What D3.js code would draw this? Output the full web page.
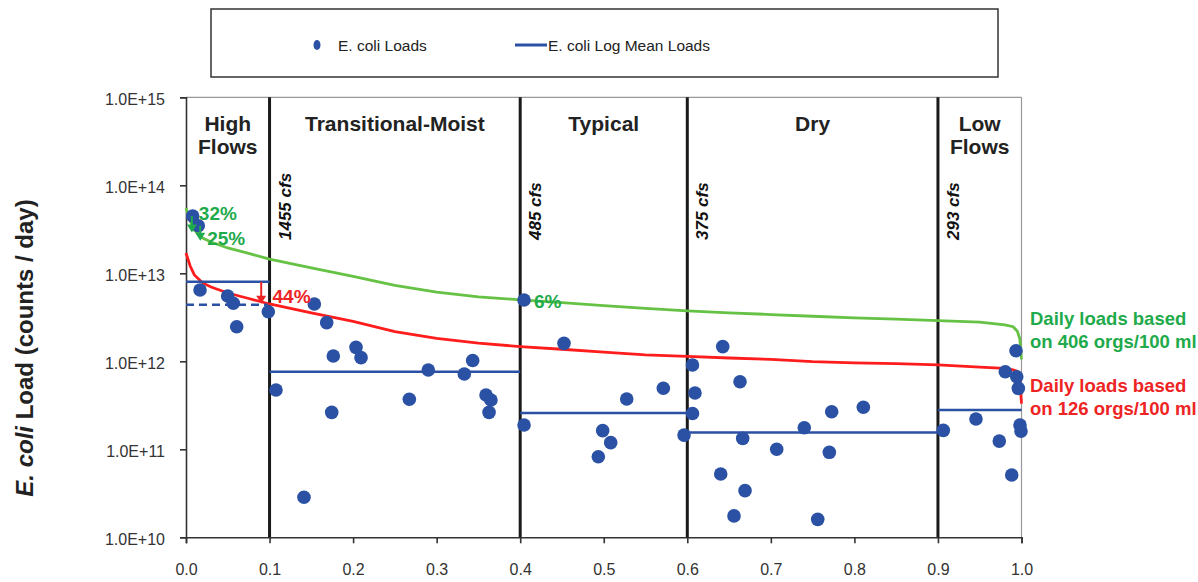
<!DOCTYPE html>
<html><head><meta charset="utf-8">
<script src="https://cdn.jsdelivr.net/npm/d3@7"></script>
<style>
body{margin:0;background:#fff;}
svg{display:block;font-family:"Liberation Sans",Arial,sans-serif;}
</style></head><body>
<svg id="c" width="1198" height="582"></svg>
<script>
// ---------- data ----------
const yTicks = [1e10, 1e11, 1e12, 1e13, 1e14, 1e15];
const xTicks = [0, 0.1, 0.2, 0.3, 0.4, 0.5, 0.6, 0.7, 0.8, 0.9, 1.0];

const regimeNames = [["High", "Flows"], ["Transitional-Moist"], ["Typical"], ["Dry"], ["Low", "Flows"]];
const regimeStart = [0, 0.1, 0.4, 0.6, 0.9];
const regimeEnd   = [0.1, 0.4, 0.6, 0.9, 1.0];
const boundaryPct = [0.1, 0.4, 0.6, 0.9];
const boundaryFlow = ["1455 cfs", "485 cfs", "375 cfs", "293 cfs"];
const logMeanLoads = [8.0e12, 7.6e11, 2.58e11, 1.55e11, 2.8e11];
const highFlowTarget = 4.4e12;

const curvePct = [0,0.005,0.01,0.02,0.03,0.05,0.075,0.1,0.15,0.2,0.25,0.3,0.35,0.4,0.45,0.5,0.55,0.6,0.65,0.7,0.75,0.8,0.85,0.9,0.95,0.98,0.99,0.995,0.998,1.0];
const loads406 = [5.52e13,3.93e13,3.10e13,2.52e13,2.27e13,1.94e13,1.68e13,1.45e13,1.15e13,9.2e12,7.3e12,6.1e12,5.4e12,5.0e12,4.65e12,4.3e12,4.0e12,3.75e12,3.55e12,3.4e12,3.25e12,3.12e12,3.02e12,2.9e12,2.78e12,2.6e12,2.47e12,2.2e12,1.8e12,1.05e12];
const loads126 = [1.70e13,1.21e13,9.58e12,7.78e12,6.99e12,5.97e12,5.17e12,4.48e12,3.54e12,2.85e12,2.17e12,1.82e12,1.61e12,1.47e12,1.37e12,1.27e12,1.18e12,1.14e12,1.09e12,1.05e12,9.9e11,9.6e11,9.4e11,9.1e11,8.6e11,8.3e11,8.0e11,7.7e11,6.5e11,3.3e11];

const samplePct = [0.008,0.0147,0.0168,0.0499,0.0566,0.0607,0.0985,
  0.1077,0.1412,0.1536,0.1684,0.1763,0.1744,0.2035,0.2095,0.2673,0.2900,0.3331,0.3431,0.3591,0.3650,0.3627,
  0.4046,0.4046,0.4524,0.4987,0.5083,0.4935,0.5275,0.5713,0.5961,
  0.6062,0.6092,0.6062,0.6424,0.6631,0.6663,0.6400,0.6691,0.6559,0.7070,0.7400,0.7728,0.7700,0.7561,0.8107,
  0.9064,0.9455,0.9734,0.9883,0.9806,0.9934,0.9943,0.9962,0.9982,0.9994];
const sampleLoad = [4.48e13,3.47e13,6.45e12,5.52e12,4.56e12,2.47e12,3.66e12,
  4.72e11,2.85e10,4.48e12,2.75e12,1.15e12,2.63e11,1.44e12,1.10e12,3.70e11,7.96e11,7.17e11,1.02e12,4.14e11,3.63e11,2.63e11,
  4.98e12,1.89e11,1.60e12,1.63e11,1.19e11,8.24e10,3.73e11,4.94e11,1.45e11,
  9.08e11,4.36e11,2.55e11,1.47e12,5.86e11,1.33e11,5.24e10,3.39e10,1.75e10,1.0e11,1.76e11,2.67e11,9.24e10,1.60e10,3.0e11,
  1.64e11,2.21e11,1.24e11,5.1e10,7.62e11,1.32e12,6.68e11,4.93e11,1.89e11,1.61e11];

// reduction annotations
const arrowPct   = [0.007, 0.017, 0.09];
const arrowFrom  = [4.48e13, 3.47e13, 8.0e12];
const arrowTo    = [2.9e13, 2.35e13, 4.5e12];
const arrowLabel = ["32%", "25%", "44%"];
const sixPct = {pct: 0.4046, load: 4.98e12, label: "6%"};

// ---------- chart ----------
const svg = d3.select("#c");
const x = d3.scaleLinear().domain([0, 1]).range([186, 1021.5]);
const y = d3.scaleLog().domain([1e10, 1e15]).range([537.3, 97.3]);

const BLUE = "#2a51a3", GREEN_L = "#66c244", GREEN_T = "#1faa4b", RED_L = "#ff1c1c", RED_T = "#ee2424";

// legend
const lg = svg.append("g");
lg.append("rect").attr("x", 211).attr("y", 9).attr("width", 787).attr("height", 68)
  .attr("fill", "#fff").attr("stroke", "#333").attr("stroke-width", 1.5);
lg.append("ellipse").attr("cx", 317).attr("cy", 45).attr("rx", 3.5).attr("ry", 5).attr("fill", BLUE);
lg.append("text").attr("x", 338).attr("y", 51).attr("font-size", 15.5).attr("fill", "#222").text("E. coli Loads");
lg.append("line").attr("x1", 515).attr("x2", 547).attr("y1", 45).attr("y2", 45).attr("stroke", BLUE).attr("stroke-width", 3);
lg.append("text").attr("x", 548).attr("y", 51).attr("font-size", 15.5).attr("fill", "#222").text("E. coli Log Mean Loads");

// frame (top / right)
svg.append("line").attr("x1", x(0)).attr("x2", x(1)).attr("y1", y(1e15)).attr("y2", y(1e15)).attr("stroke", "#999").attr("stroke-width", 1.2);
svg.append("line").attr("x1", x(1)).attr("x2", x(1)).attr("y1", y(1e15)).attr("y2", y(1e10)).attr("stroke", "#999").attr("stroke-width", 1.2);

// axes
const fmtE = d => d.toExponential(1).toUpperCase();
const ya = svg.append("g").attr("transform", `translate(${x(0)},0)`)
  .call(d3.axisLeft(y).tickValues(yTicks).tickFormat(fmtE).tickSize(6).tickPadding(15));
const xa = svg.append("g").attr("transform", `translate(0,${y(1e10)})`)
  .call(d3.axisBottom(x).tickValues(xTicks).tickFormat(d3.format(".1f")).tickSize(6).tickPadding(20));
[ya, xa].forEach(a => {
  a.select(".domain").attr("stroke", "#333").attr("stroke-width", 1.6);
  a.selectAll(".tick line").attr("stroke", "#333").attr("stroke-width", 1.6);
  a.selectAll("text").attr("font-size", 16).attr("fill", "#333").attr("font-family", "Liberation Sans, Arial, sans-serif");
});
ya.selectAll("text").attr("dy", "0.45em");

// y title
const yt = svg.append("text").attr("transform", "translate(33,348) rotate(-90)")
  .attr("text-anchor", "middle").attr("font-size", 24).attr("font-weight", "bold").attr("fill", "#222");
yt.append("tspan").attr("font-style", "italic").text("E. coli");
yt.append("tspan").text(" Load (counts / day)");

// regime boundaries
svg.append("g").selectAll("line").data(boundaryPct).join("line")
  .attr("x1", d => x(d)).attr("x2", d => x(d)).attr("y1", y(1e15)).attr("y2", y(1e10))
  .attr("stroke", "#1a1a1a").attr("stroke-width", 3);

// regime names
regimeNames.forEach((lines, i) => {
  const cx = x((regimeStart[i] + regimeEnd[i]) / 2);
  const t = svg.append("text").attr("text-anchor", "middle").attr("font-size", 21)
    .attr("font-weight", "bold").attr("fill", "#222");
  lines.forEach((s, j) => t.append("tspan").attr("x", cx).attr("y", 131 + j * 23).text(s));
});

// flow labels
svg.append("g").selectAll("text").data(boundaryPct).join("text")
  .attr("transform", d => `translate(${x(d) + 21},240) rotate(-90)`)
  .attr("font-size", 17).attr("font-weight", "bold").attr("font-style", "italic").attr("fill", "#111")
  .text((d, i) => boundaryFlow[i]);

// curves
const line = d3.line().x(d => x(d[0])).y(d => y(d[1]));
svg.append("path").attr("d", line(curvePct.map((p, i) => [p, loads406[i]])))
  .attr("fill", "none").attr("stroke", GREEN_L).attr("stroke-width", 2.8);
svg.append("path").attr("d", line(curvePct.map((p, i) => [p, loads126[i]])))
  .attr("fill", "none").attr("stroke", RED_L).attr("stroke-width", 2.8);

// log mean lines
svg.append("g").selectAll("line").data(logMeanLoads).join("line")
  .attr("x1", (d, i) => x(regimeStart[i])).attr("x2", (d, i) => x(regimeEnd[i]))
  .attr("y1", d => y(d)).attr("y2", d => y(d))
  .attr("stroke", BLUE).attr("stroke-width", 2.5);
svg.append("line").attr("x1", x(0)).attr("x2", x(0.098)).attr("y1", y(highFlowTarget)).attr("y2", y(highFlowTarget))
  .attr("stroke", BLUE).attr("stroke-width", 2.5).attr("stroke-dasharray", "8,5");

// points
svg.append("g").selectAll("circle").data(samplePct).join("circle")
  .attr("cx", d => x(d)).attr("cy", (d, i) => y(sampleLoad[i])).attr("r", 6.8).attr("fill", BLUE);

// arrows
arrowPct.forEach((p, i) => {
  const col = i < 2 ? GREEN_T : RED_T;
  const ax = x(p), y0 = y(arrowFrom[i]), y1 = y(arrowTo[i]);
  svg.append("line").attr("x1", ax).attr("x2", ax).attr("y1", y0).attr("y2", y1 - 7)
    .attr("stroke", col).attr("stroke-width", 2);
  svg.append("path").attr("d", `M${ax - 5},${y1 - 8} L${ax + 5},${y1 - 8} L${ax},${y1} Z`).attr("fill", col);
});
svg.append("text").attr("x", x(arrowPct[0]) + 7).attr("y", y(arrowFrom[0]) + 4)
  .attr("font-size", 19).attr("font-weight", "bold").attr("fill", GREEN_T).text(arrowLabel[0]);
svg.append("text").attr("x", x(arrowPct[1]) + 7).attr("y", y(arrowTo[1]) + 4)
  .attr("font-size", 19).attr("font-weight", "bold").attr("fill", GREEN_T).text(arrowLabel[1]);
svg.append("text").attr("x", x(0.1) + 3).attr("y", y(arrowFrom[2]) + 21)
  .attr("font-size", 19).attr("font-weight", "bold").attr("fill", RED_T).text(arrowLabel[2]);
svg.append("text").attr("x", x(sixPct.pct) + 10).attr("y", y(sixPct.load) + 8)
  .attr("font-size", 19).attr("font-weight", "bold").attr("fill", GREEN_T).text(sixPct.label);

// right labels
const rl = [[GREEN_T, 325, ["Daily loads based", "on 406 orgs/100 ml"]], [RED_T, 392, ["Daily loads based", "on 126 orgs/100 ml"]]];
rl.forEach(([c, yy, ls]) => {
  const t = svg.append("text").attr("font-size", 18.5).attr("font-weight", "bold").attr("fill", c);
  ls.forEach((s, j) => t.append("tspan").attr("x", 1030).attr("y", yy + j * 22.5).text(s));
});
</script>
</body></html>
